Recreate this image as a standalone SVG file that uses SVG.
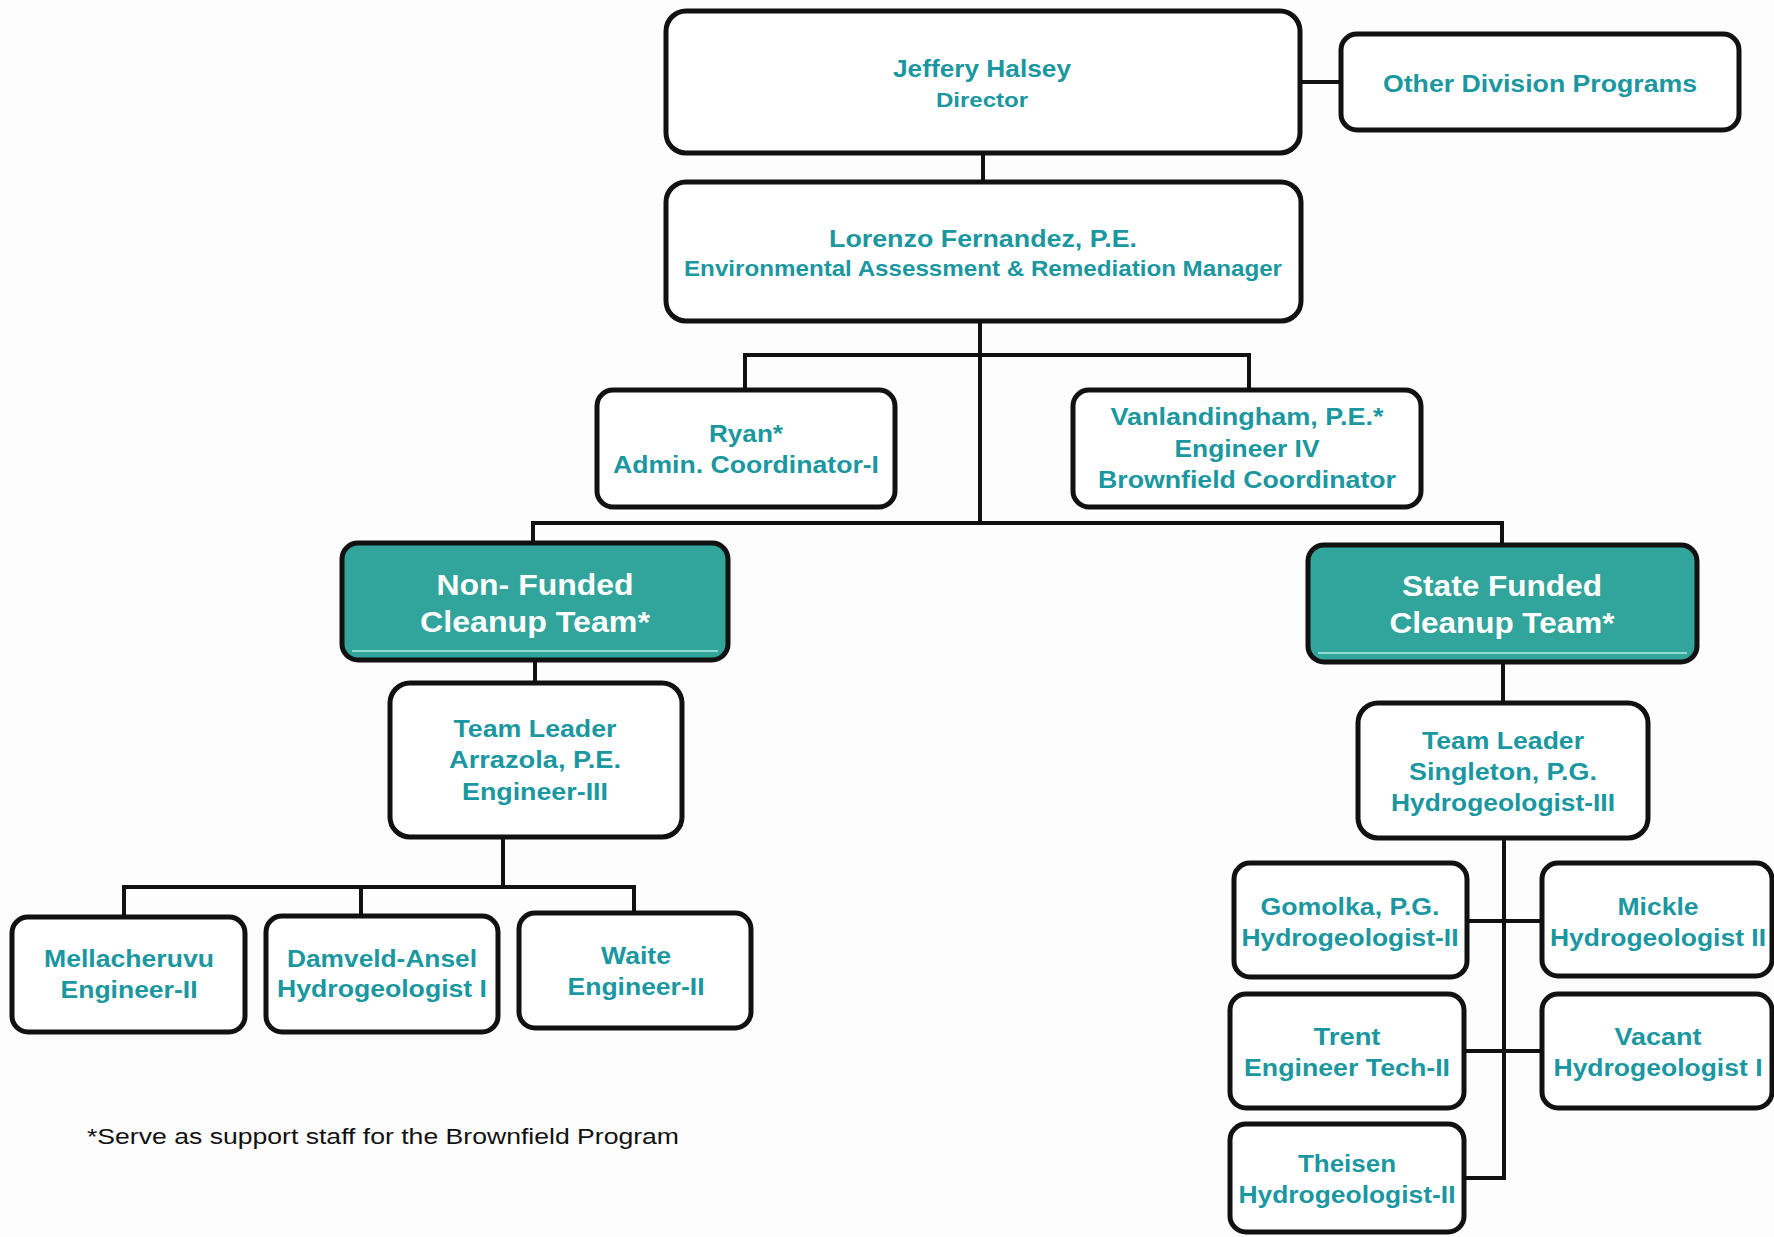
<svg xmlns="http://www.w3.org/2000/svg" width="1774" height="1237" viewBox="0 0 1774 1237">
<style>
.box{fill:#ffffff;stroke:#111111;stroke-width:5}
.team{fill:#31a49b;stroke:#111111;stroke-width:5}
.hl{fill:none;stroke:#8fdcd6;stroke-width:2}
.t{font-family:"Liberation Sans",Arial,sans-serif;font-weight:bold;fill:#1a97a0;text-anchor:middle;font-size:23px}
.w{font-family:"Liberation Sans",Arial,sans-serif;font-weight:bold;fill:#ffffff;text-anchor:middle;font-size:29px}
.note{font-family:"Liberation Sans",Arial,sans-serif;fill:#111111;font-size:22.5px}
.c{fill:none;stroke:#111111;stroke-width:4;stroke-linejoin:miter}
</style>
<rect width="1774" height="1237" fill="#fdfdfd"/>
<g id="connectors">
<path class="c" d="M983 153 V182"/>
<path class="c" d="M1300 82 H1341"/>
<path class="c" d="M980 321 V523"/>
<path class="c" d="M745 390 V355 H1249 V390"/>
<path class="c" d="M533 543 V523 H1502 V545"/>
<path class="c" d="M535 660 V683"/>
<path class="c" d="M503 837 V887"/>
<path class="c" d="M124 917 V887 H634 V913"/>
<path class="c" d="M361 887 V916"/>
<path class="c" d="M1503 662 V703"/>
<path class="c" d="M1504 838 V1178 H1464"/>
<path class="c" d="M1467 921 H1542"/>
<path class="c" d="M1464 1051 H1542"/>
</g>
<g id="director">
<rect class="box" x="666" y="11" width="634" height="142" rx="20"/>
<text class="t" x="982" y="77" font-size="22" textLength="178" lengthAdjust="spacingAndGlyphs">Jeffery Halsey</text>
<text class="t" x="982" y="107" style="font-size:21px" textLength="92" lengthAdjust="spacingAndGlyphs">Director</text>
</g>
<g id="other">
<rect class="box" x="1341" y="34" width="398" height="96" rx="16"/>
<text class="t" x="1540" y="92" style="font-size:24px" textLength="314" lengthAdjust="spacingAndGlyphs">Other Division Programs</text>
</g>
<g id="manager">
<rect class="box" x="666" y="182" width="635" height="139" rx="20"/>
<text class="t" x="983" y="247" style="font-size:23.5px" textLength="308" lengthAdjust="spacingAndGlyphs">Lorenzo Fernandez, P.E.</text>
<text class="t" x="983" y="276" style="font-size:22px" textLength="598" lengthAdjust="spacingAndGlyphs">Environmental Assessment &amp; Remediation Manager</text>
</g>
<g id="ryan">
<rect class="box" x="597" y="390" width="298" height="117" rx="16"/>
<text class="t" x="746" y="442" textLength="74" lengthAdjust="spacingAndGlyphs">Ryan*</text>
<text class="t" x="746" y="473" textLength="266" lengthAdjust="spacingAndGlyphs">Admin. Coordinator-I</text>
</g>
<g id="vanlandingham">
<rect class="box" x="1073" y="390" width="348" height="117" rx="16"/>
<text class="t" x="1247" y="425" textLength="273" lengthAdjust="spacingAndGlyphs">Vanlandingham, P.E.*</text>
<text class="t" x="1247" y="457" textLength="145" lengthAdjust="spacingAndGlyphs">Engineer IV</text>
<text class="t" x="1247" y="488" textLength="298" lengthAdjust="spacingAndGlyphs">Brownfield Coordinator</text>
</g>
<g id="nonfunded">
<rect class="team" x="342" y="543" width="386" height="117" rx="16"/>
<path class="hl" d="M352 651 H718"/>
<text class="w" x="535" y="595" textLength="197" lengthAdjust="spacingAndGlyphs">Non- Funded</text>
<text class="w" x="535" y="632" textLength="230" lengthAdjust="spacingAndGlyphs">Cleanup Team*</text>
</g>
<g id="statefunded">
<rect class="team" x="1308" y="545" width="389" height="117" rx="16"/>
<path class="hl" d="M1318 653 H1687"/>
<text class="w" x="1502" y="596" textLength="200" lengthAdjust="spacingAndGlyphs">State Funded</text>
<text class="w" x="1502" y="633" textLength="225" lengthAdjust="spacingAndGlyphs">Cleanup Team*</text>
</g>
<g id="arrazola">
<rect class="box" x="390" y="683" width="292" height="154" rx="20"/>
<text class="t" x="535" y="737" textLength="163" lengthAdjust="spacingAndGlyphs">Team Leader</text>
<text class="t" x="535" y="768" textLength="172" lengthAdjust="spacingAndGlyphs">Arrazola, P.E.</text>
<text class="t" x="535" y="800" textLength="146" lengthAdjust="spacingAndGlyphs">Engineer-III</text>
</g>
<g id="singleton">
<rect class="box" x="1358" y="703" width="290" height="135" rx="20"/>
<text class="t" x="1503" y="749" textLength="162" lengthAdjust="spacingAndGlyphs">Team Leader</text>
<text class="t" x="1503" y="780" textLength="188" lengthAdjust="spacingAndGlyphs">Singleton, P.G.</text>
<text class="t" x="1503" y="811" textLength="224" lengthAdjust="spacingAndGlyphs">Hydrogeologist-III</text>
</g>
<g id="mellacheruvu">
<rect class="box" x="12" y="917" width="233" height="115" rx="16"/>
<text class="t" x="129" y="967" textLength="170" lengthAdjust="spacingAndGlyphs">Mellacheruvu</text>
<text class="t" x="129" y="998" textLength="137" lengthAdjust="spacingAndGlyphs">Engineer-II</text>
</g>
<g id="damveld">
<rect class="box" x="266" y="916" width="232" height="116" rx="16"/>
<text class="t" x="382" y="967" textLength="190" lengthAdjust="spacingAndGlyphs">Damveld-Ansel</text>
<text class="t" x="382" y="997" textLength="210" lengthAdjust="spacingAndGlyphs">Hydrogeologist I</text>
</g>
<g id="waite">
<rect class="box" x="519" y="913" width="232" height="115" rx="16"/>
<text class="t" x="636" y="964" textLength="70" lengthAdjust="spacingAndGlyphs">Waite</text>
<text class="t" x="636" y="995" textLength="137" lengthAdjust="spacingAndGlyphs">Engineer-II</text>
</g>
<g id="gomolka">
<rect class="box" x="1234" y="863" width="233" height="114" rx="16"/>
<text class="t" x="1350" y="915" textLength="179" lengthAdjust="spacingAndGlyphs">Gomolka, P.G.</text>
<text class="t" x="1350" y="946" textLength="217" lengthAdjust="spacingAndGlyphs">Hydrogeologist-II</text>
</g>
<g id="mickle">
<rect class="box" x="1542" y="863" width="230" height="113" rx="16"/>
<text class="t" x="1658" y="915" textLength="81" lengthAdjust="spacingAndGlyphs">Mickle</text>
<text class="t" x="1658" y="946" textLength="216" lengthAdjust="spacingAndGlyphs">Hydrogeologist II</text>
</g>
<g id="trent">
<rect class="box" x="1230" y="994" width="234" height="114" rx="16"/>
<text class="t" x="1347" y="1045" textLength="67" lengthAdjust="spacingAndGlyphs">Trent</text>
<text class="t" x="1347" y="1076" textLength="206" lengthAdjust="spacingAndGlyphs">Engineer Tech-II</text>
</g>
<g id="vacant">
<rect class="box" x="1542" y="994" width="230" height="114" rx="16"/>
<text class="t" x="1658" y="1045" textLength="87" lengthAdjust="spacingAndGlyphs">Vacant</text>
<text class="t" x="1658" y="1076" textLength="209" lengthAdjust="spacingAndGlyphs">Hydrogeologist I</text>
</g>
<g id="theisen">
<rect class="box" x="1230" y="1124" width="234" height="108" rx="16"/>
<text class="t" x="1347" y="1172" textLength="98" lengthAdjust="spacingAndGlyphs">Theisen</text>
<text class="t" x="1347" y="1203" textLength="217" lengthAdjust="spacingAndGlyphs">Hydrogeologist-II</text>
</g>
<text class="note" x="87" y="1144" textLength="592" lengthAdjust="spacingAndGlyphs">*Serve as support staff for the Brownfield Program</text>
</svg>
